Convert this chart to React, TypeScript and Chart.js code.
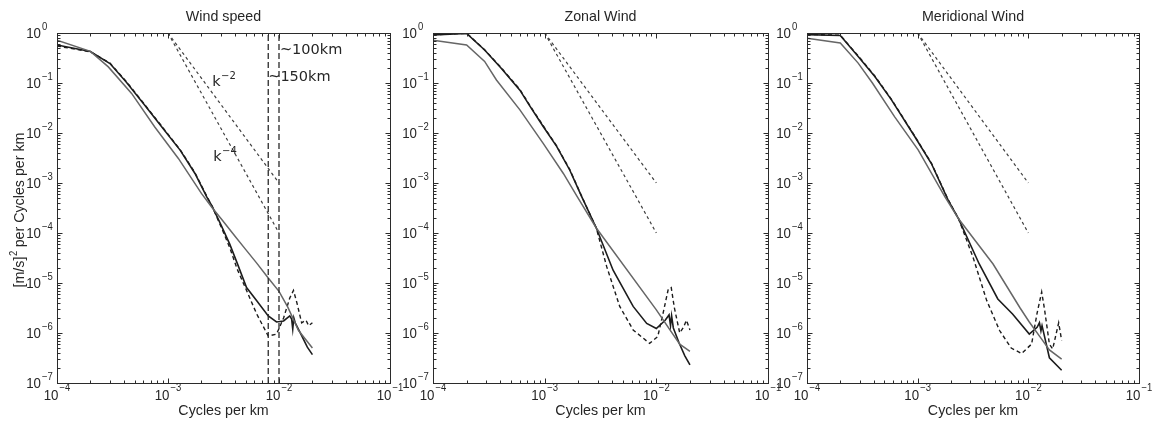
import React, { useEffect, useRef } from "react";
import { Chart, registerables } from "chart.js";

Chart.register(...registerables);

// ---------------- data ----------------
// Panel 1: Wind speed
const speedBlackFreq = [1e-4, 2e-4, 3e-4, 4.2e-4, 6e-4, 8.8e-4, 1.29e-3, 1.75e-3, 2.24e-3, 2.5e-3, 3e-3, 3.6e-3, 4.2e-3, 5.1e-3, 6.3e-3, 8e-3, 9.5e-3, 1.1e-2, 1.25e-2, 1.3e-2, 1.33e-2, 1.36e-2, 1.4e-2, 1.6e-2, 1.8e-2, 2e-2];
const speedBlackPower = [0.575, 0.427, 0.245, 0.105, 0.039, 0.0132, 4.5e-3, 1.55e-3, 5.2e-4, 3.4e-4, 1.45e-4, 6.0e-5, 2.5e-5, 8.1e-6, 4.4e-6, 2.2e-6, 1.66e-6, 1.74e-6, 2.2e-6, 1.9e-6, 1.2e-6, 2.0e-6, 1.6e-6, 8.9e-7, 5.2e-7, 3.7e-7];
const speedDashFreq = [1e-4, 2e-4, 3e-4, 4.2e-4, 6e-4, 8.8e-4, 1.29e-3, 1.75e-3, 2.24e-3, 2.5e-3, 3e-3, 3.6e-3, 4.2e-3, 5.1e-3, 6.3e-3, 8e-3, 9.5e-3, 1.1e-2, 1.25e-2, 1.35e-2, 1.45e-2, 1.6e-2, 1.75e-2, 1.85e-2, 2e-2];
const speedDashPower = [0.55, 0.42, 0.25, 0.108, 0.04, 0.0136, 4.6e-3, 1.6e-3, 5.4e-4, 3.4e-4, 1.35e-4, 5.1e-5, 1.9e-5, 7.1e-6, 2.4e-6, 8.7e-7, 9.5e-7, 2.0e-6, 5.0e-6, 7.1e-6, 4.0e-6, 1.6e-6, 1.8e-6, 1.4e-6, 1.6e-6];
const speedGrayFreq = [1e-4, 2e-4, 2.9e-4, 4.7e-4, 7.6e-4, 1.24e-3, 2e-3, 2.5e-3, 3e-3, 4e-3, 5e-3, 6.3e-3, 8e-3, 1e-2, 1.2e-2, 1.5e-2, 2e-2];
const speedGrayPower = [0.72, 0.43, 0.21, 0.062, 0.0132, 3.1e-3, 6.2e-4, 3.2e-4, 1.95e-4, 8.7e-5, 4.7e-5, 2.5e-5, 1.26e-5, 6.8e-6, 3.3e-6, 1.12e-6, 5.0e-7];

// Panel 2: Zonal Wind
const zonalBlackFreq = [1e-4, 2e-4, 2.9e-4, 4.1e-4, 6e-4, 7.4e-4, 9.7e-4, 1.28e-3, 1.68e-3, 2.14e-3, 2.9e-3, 4.1e-3, 6.2e-3, 8.2e-3, 1e-2, 1.2e-2, 1.3e-2, 1.34e-2, 1.37e-2, 1.42e-2, 1.6e-2, 1.8e-2, 2e-2];
const zonalBlackPower = [0.91, 0.98, 0.457, 0.195, 0.072, 0.034, 0.0135, 5.4e-3, 1.8e-3, 5.4e-4, 1.26e-4, 1.8e-5, 3.4e-6, 1.55e-6, 1.23e-6, 1.8e-6, 2.3e-6, 1.4e-6, 2.2e-6, 1.26e-6, 6.3e-7, 3.5e-7, 2.3e-7];
const zonalDashFreq = [1e-4, 2e-4, 2.9e-4, 4.1e-4, 6e-4, 7.4e-4, 9.7e-4, 1.28e-3, 1.68e-3, 2.14e-3, 2.9e-3, 3.6e-3, 4.7e-3, 6.2e-3, 8.7e-3, 1.03e-2, 1.15e-2, 1.28e-2, 1.36e-2, 1.45e-2, 1.62e-2, 1.75e-2, 1.86e-2, 2e-2];
const zonalDashPower = [0.92, 0.99, 0.46, 0.2, 0.074, 0.035, 0.014, 5.5e-3, 1.85e-3, 5.5e-4, 1.26e-4, 2.1e-5, 3.4e-6, 1.15e-6, 6.2e-7, 8.5e-7, 2.5e-6, 7.6e-6, 8.1e-6, 3.2e-6, 1.0e-6, 1.3e-6, 1.8e-6, 1.15e-6];
const zonalGrayFreq = [1e-4, 2e-4, 2.9e-4, 3.7e-4, 6e-4, 9.7e-4, 1.47e-3, 1.95e-3, 2.9e-3, 1e-2, 1.62e-2, 2e-2];
const zonalGrayPower = [0.72, 0.575, 0.27, 0.115, 0.029, 6.2e-3, 1.55e-3, 5.4e-4, 1.26e-4, 2.9e-6, 6.0e-7, 4.3e-7];

// Panel 3: Meridional Wind
const meridBlackFreq = [1e-4, 2e-4, 2.9e-4, 4.1e-4, 5.8e-4, 9.4e-4, 1.33e-3, 1.88e-3, 2.35e-3, 3.6e-3, 5.3e-3, 7.2e-3, 1.02e-2, 1.2e-2, 1.26e-2, 1.3e-2, 1.33e-2, 1.55e-2, 2e-2];
const meridBlackPower = [0.93, 0.89, 0.34, 0.135, 0.046, 8.5e-3, 2.45e-3, 4.6e-4, 1.9e-4, 2.4e-5, 4.8e-6, 2.4e-6, 9.5e-7, 1.3e-6, 1.6e-6, 1.1e-6, 1.4e-6, 3.2e-7, 1.8e-7];
const meridDashFreq = [1e-4, 2e-4, 2.9e-4, 4.1e-4, 5.8e-4, 9.4e-4, 1.33e-3, 1.88e-3, 2.35e-3, 3.16e-3, 4.2e-3, 5.5e-3, 7e-3, 8.7e-3, 1.07e-2, 1.2e-2, 1.32e-2, 1.4e-2, 1.55e-2, 1.66e-2, 1.88e-2, 2e-2];
const meridDashPower = [0.94, 0.9, 0.35, 0.138, 0.047, 8.7e-3, 2.5e-3, 4.7e-4, 1.9e-4, 3.3e-5, 4.5e-6, 1.12e-6, 5.0e-7, 3.9e-7, 6.0e-7, 2.5e-6, 6.6e-6, 3.0e-6, 6.0e-7, 4.8e-7, 1.6e-6, 7.1e-7];
const meridGrayFreq = [1e-4, 2e-4, 2.9e-4, 3.9e-4, 6.2e-4, 1.01e-3, 1.77e-3, 2.35e-3, 4.8e-3, 8.4e-3, 1.02e-2, 1.3e-2, 1.55e-2, 2e-2];
const meridGrayPower = [0.79, 0.63, 0.25, 0.1, 0.021, 4.6e-3, 5.2e-4, 1.9e-4, 2.4e-5, 3.2e-6, 1.66e-6, 7.9e-7, 4.6e-7, 3.0e-7];

// Reference slope lines (same in every panel)
const refFreq = [1e-3, 1e-2];
const refUpperPower = [1, 1e-3];
const refLowerPower = [1, 1e-4];

// Vertical markers in panel 1 (~150 km, ~100 km)
const markerFreq = [8e-3, 1e-2];
const markerSpan = [1e-7, 1];

// Axis ranges / tick decades
const xDecades = [-4, -3, -2, -1];
const yDecades = [0, -1, -2, -3, -4, -5, -6, -7];

const panelTitles = ["Wind speed", "Zonal Wind", "Meridional Wind"];
const xAxisTitle = "Cycles per km";

// ---------------- styling ----------------
const FONT = '"Liberation Sans", Arial, Helvetica, sans-serif';
const ANNO_FONT = '"DejaVu Sans", "Liberation Sans", sans-serif';
const INK = "#262626";
const SX = 0.95;
const W = 1152;
const H = 427;

type Box = { left: number; right: number; top: number; bottom: number };
const panelBoxes: Box[] = [
  { left: 57, right: 390, top: 33, bottom: 383 },
  { left: 433, right: 768, top: 33, bottom: 383 },
  { left: 807, right: 1139, top: 33, bottom: 383 },
];

function pts(xs: number[], ys: number[]) {
  return xs.map((x, i) => ({ x, y: ys[i] }));
}

function txt(
  ctx: CanvasRenderingContext2D,
  s: string,
  x: number,
  y: number,
  size: number,
  align: CanvasTextAlign,
  family = FONT,
  sx = SX
) {
  ctx.save();
  ctx.font = `${size}px ${family}`;
  ctx.fillStyle = INK;
  ctx.textAlign = align;
  ctx.textBaseline = "middle";
  ctx.translate(x, y);
  ctx.scale(sx, 1);
  ctx.fillText(s, 0, 0);
  ctx.restore();
}

function measure(ctx: CanvasRenderingContext2D, s: string, size: number, family = FONT, sx = SX) {
  ctx.save();
  ctx.font = `${size}px ${family}`;
  const w = ctx.measureText(s).width * sx;
  ctx.restore();
  return w;
}

function expText(e: number) {
  return e === 0 ? "0" : "\u2212" + Math.abs(e);
}

type Anno = { x: number; y: number; base: string; sup?: string };
const panel1Annos: Anno[] = [
  { x: 2.5e-3, y: 0.105, base: "k", sup: "\u22122" },
  { x: 2.55e-3, y: 3.3e-3, base: "k", sup: "\u22124" },
  { x: 1.02e-2, y: 0.46, base: "~100km" },
  { x: 8.0e-3, y: 0.13, base: "~150km" },
];

function makeFramePlugin(index: number) {
  return {
    id: "matlabFrame" + index,
    afterDraw(chart: any) {
      const ctx: CanvasRenderingContext2D = chart.ctx;
      const a = chart.chartArea;
      const xs = chart.scales.x;
      const ys = chart.scales.y;
      ctx.save();
      ctx.strokeStyle = "#2b2b2b";
      ctx.lineWidth = 1;
      const L = Math.round(a.left) + 0.5;
      const R = Math.round(a.right) + 0.5;
      const T = Math.round(a.top) + 0.5;
      const B = Math.round(a.bottom) + 0.5;
      ctx.strokeRect(L, T, R - L, B - T);
      ctx.beginPath();
      for (const e of xDecades) {
        for (let m = 1; m <= 9; m++) {
          if (e === -1 && m > 1) break;
          const v = m * Math.pow(10, e);
          const px = Math.round(xs.getPixelForValue(v)) + 0.5;
          const len = m === 1 ? 5 : 3;
          ctx.moveTo(px, B);
          ctx.lineTo(px, B - len);
          ctx.moveTo(px, T);
          ctx.lineTo(px, T + len);
        }
      }
      for (const e of yDecades) {
        for (let m = 1; m <= 9; m++) {
          if (e === 0 && m > 1) break;
          const v = m * Math.pow(10, e);
          const py = Math.round(ys.getPixelForValue(v)) + 0.5;
          const len = m === 1 ? 5 : 3;
          ctx.moveTo(L, py);
          ctx.lineTo(L + len, py);
          ctx.moveTo(R, py);
          ctx.lineTo(R - len, py);
        }
      }
      ctx.stroke();
      ctx.restore();

      // tick labels
      for (const e of xDecades) {
        const px = xs.getPixelForValue(Math.pow(10, e));
        txt(ctx, "10", px + 1.5, 396, 14, "right");
        txt(ctx, expText(e), px + 2.5, 388, 10, "left");
      }
      for (const e of yDecades) {
        const py = ys.getPixelForValue(Math.pow(10, e));
        txt(ctx, "10", a.left - 16, py + 1, 14, "right");
        txt(ctx, expText(e), a.left - 15, py - 6, 10, "left");
      }

      const cx = (a.left + a.right) / 2;
      txt(ctx, panelTitles[index], cx, 17, 15, "center");
      txt(ctx, xAxisTitle, cx, 411, 15, "center");

      if (index === 0) {
        const pA = "[m/s]";
        const pB = "2";
        const pC = " per Cycles per km";
        const wA = measure(ctx, pA, 15);
        const wB = measure(ctx, pB, 10);
        const wC = measure(ctx, pC, 15);
        const total = wA + wB + wC;
        ctx.save();
        ctx.translate(20, 210);
        ctx.rotate(-Math.PI / 2);
        const s0 = -total / 2;
        txt(ctx, pA, s0, 0, 15, "left");
        txt(ctx, pB, s0 + wA + 0.5, -6, 10, "left");
        txt(ctx, pC, s0 + wA + wB, 0, 15, "left");
        ctx.restore();

        for (const an of panel1Annos) {
          const px = xs.getPixelForValue(an.x);
          const py = ys.getPixelForValue(an.y);
          txt(ctx, an.base, px, py, 14.5, "left", ANNO_FONT, 1);
          if (an.sup) {
            const wb = measure(ctx, an.base, 14.5, ANNO_FONT, 1);
            txt(ctx, an.sup, px + wb + 0.5, py - 6, 10, "left", ANNO_FONT, 1);
          }
        }
      }
    },
  };
}

type SeriesDef = { freq: number[]; power: number[]; kind: "black" | "dash" | "gray" | "ref" | "marker" };

function styleFor(kind: SeriesDef["kind"]) {
  switch (kind) {
    case "black":
      return { borderColor: "#1c1c1c", borderWidth: 1.6, borderDash: [] as number[] };
    case "dash":
      return { borderColor: "#1c1c1c", borderWidth: 1.4, borderDash: [4, 3] };
    case "gray":
      return { borderColor: "#666666", borderWidth: 1.5, borderDash: [] as number[] };
    case "ref":
      return { borderColor: "#404040", borderWidth: 1.2, borderDash: [3, 3] };
    case "marker":
    default:
      return { borderColor: "#2a2a2a", borderWidth: 1.3, borderDash: [6, 3] };
  }
}

const panelSeries: SeriesDef[][] = [
  [
    { freq: refFreq, power: refUpperPower, kind: "ref" },
    { freq: refFreq, power: refLowerPower, kind: "ref" },
    { freq: [markerFreq[0], markerFreq[0]], power: markerSpan, kind: "marker" },
    { freq: [markerFreq[1], markerFreq[1]], power: markerSpan, kind: "marker" },
    { freq: speedGrayFreq, power: speedGrayPower, kind: "gray" },
    { freq: speedDashFreq, power: speedDashPower, kind: "dash" },
    { freq: speedBlackFreq, power: speedBlackPower, kind: "black" },
  ],
  [
    { freq: refFreq, power: refUpperPower, kind: "ref" },
    { freq: refFreq, power: refLowerPower, kind: "ref" },
    { freq: zonalGrayFreq, power: zonalGrayPower, kind: "gray" },
    { freq: zonalDashFreq, power: zonalDashPower, kind: "dash" },
    { freq: zonalBlackFreq, power: zonalBlackPower, kind: "black" },
  ],
  [
    { freq: refFreq, power: refUpperPower, kind: "ref" },
    { freq: refFreq, power: refLowerPower, kind: "ref" },
    { freq: meridGrayFreq, power: meridGrayPower, kind: "gray" },
    { freq: meridDashFreq, power: meridDashPower, kind: "dash" },
    { freq: meridBlackFreq, power: meridBlackPower, kind: "black" },
  ],
];

function Panel({ index }: { index: number }) {
  const ref = useRef<HTMLCanvasElement>(null);
  useEffect(() => {
    const box = panelBoxes[index];
    const datasets = panelSeries[index].map((s) => ({
      data: pts(s.freq, s.power),
      ...styleFor(s.kind),
      pointRadius: 0,
      pointHoverRadius: 0,
      tension: 0,
      fill: false,
    }));
    const chart = new Chart(ref.current as HTMLCanvasElement, {
      type: "line",
      data: { datasets } as any,
      options: {
        animation: false,
        responsive: false,
        maintainAspectRatio: false,
        events: [],
        layout: {
          padding: { left: box.left, right: W - box.right, top: box.top, bottom: H - box.bottom },
        },
        plugins: { legend: { display: false }, tooltip: { enabled: false }, title: { display: false } },
        scales: {
          x: { type: "logarithmic", min: 1e-4, max: 1e-1, display: false },
          y: { type: "logarithmic", min: 1e-7, max: 1, display: false },
        },
      } as any,
      plugins: [makeFramePlugin(index)],
    });
    return () => chart.destroy();
  }, [index]);
  return (
    <canvas
      ref={ref}
      width={W}
      height={H}
      style={{ position: "absolute", left: 0, top: 0, width: W, height: H }}
    />
  );
}

export default function App() {
  return (
    <div style={{ position: "absolute", left: 0, top: 0, width: W, height: H, background: "#fff", overflow: "hidden" }}>
      <Panel index={0} />
      <Panel index={1} />
      <Panel index={2} />
    </div>
  );
}
